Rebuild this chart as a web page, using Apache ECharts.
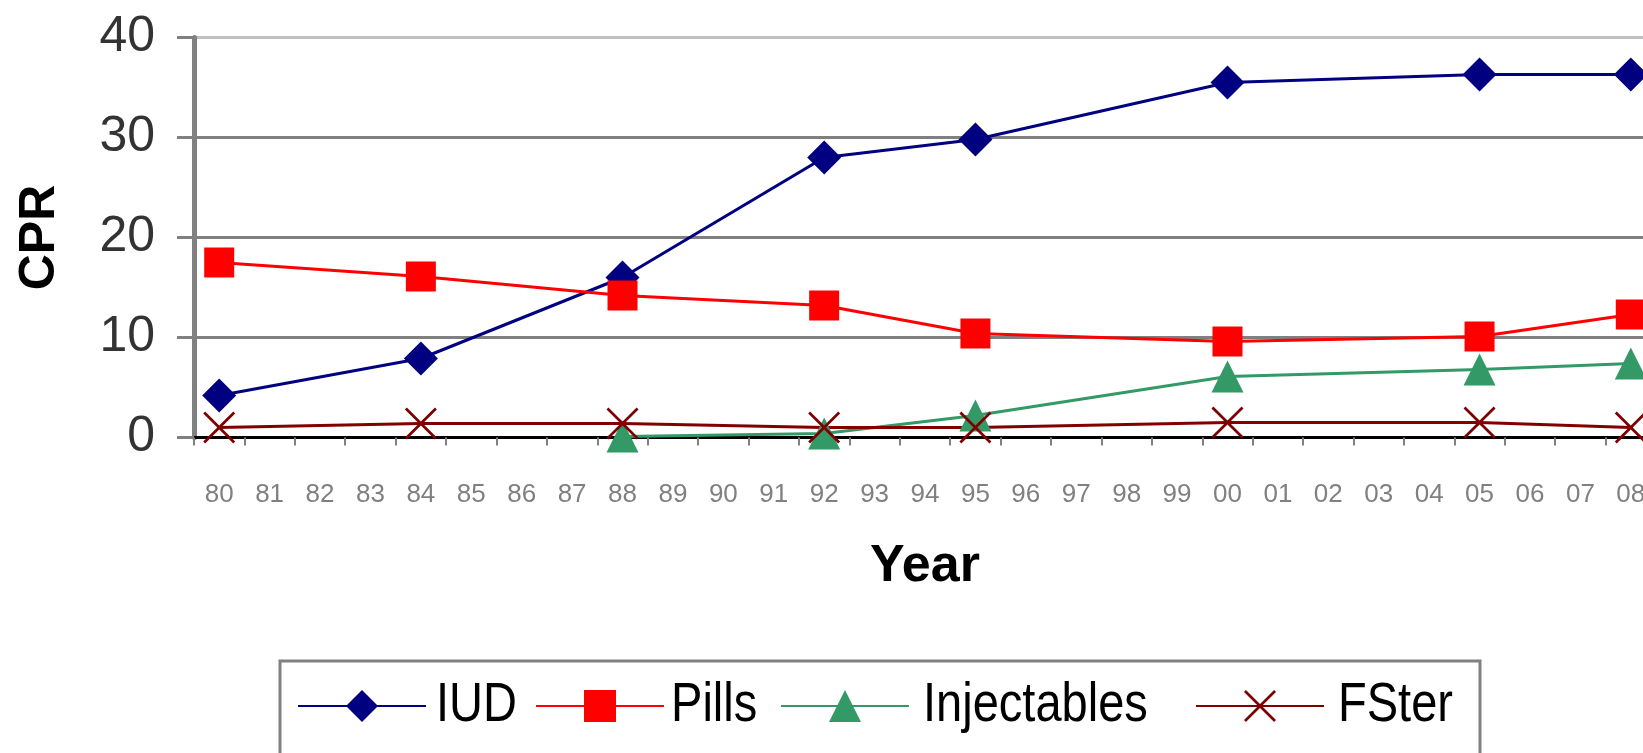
<!DOCTYPE html>
<html>
<head>
<meta charset="utf-8">
<title>CPR by method</title>
<script src="https://cdn.jsdelivr.net/npm/echarts@6/dist/echarts.min.js"></script>
<style>
  html, body { margin: 0; padding: 0; background: #ffffff; overflow: hidden; }
  /* The plot runs on past the right edge of the window, so the last year is cut at its half */
  #chart { width: 1656px; height: 753px; }
</style>
</head>
<body>
<div id="chart"></div>
<script>
// Year categories on the x axis (two-digit labels, 1980–2008)
const years = ['80','81','82','83','84','85','86','87','88','89','90','91','92','93','94','95',
               '96','97','98','99','00','01','02','03','04','05','06','07','08'];

// Survey rounds and the contraceptive prevalence (CPR) of each method
const surveyYears = ['80','84','88','92','95','00','05','08'];
const iud         = [4.2, 7.9, 16.0, 28.0, 29.8, 35.5, 36.3, 36.3];
const pills       = [17.5, 16.1, 14.2, 13.2, 10.4, 9.6, 10.1, 12.3];
const injectables = [null, null, 0.1, 0.4, 2.2, 6.1, 6.8, 7.4];
const fster       = [1.0, 1.4, 1.4, 1.0, 1.0, 1.5, 1.5, 1.0];

// Y-axis ticks
const yTicks = [0, 10, 20, 30, 40];

// Legend entries
const methods = ['IUD', 'Pills', 'Injectables', 'FSter'];

// Spread survey values over the full year axis, leaving gaps elsewhere
function onYearAxis(values) {
  return years.map(function (y) {
    const i = surveyYears.indexOf(y);
    return i >= 0 ? values[i] : null;
  });
}

const FONT = 'Liberation Sans, Arial, sans-serif';
const xMark = 'path://M0,1.2L1.2,0L10,8.8L18.8,0L20,1.2L11.2,10L20,18.8L18.8,20L10,11.2L1.2,20L0,18.8L8.8,10Z';

function lineSeries(name, values, color, symbol, size) {
  return {
    name: name,
    type: 'line',
    data: onYearAxis(values),
    connectNulls: true,
    symbol: symbol,
    symbolSize: size,
    showAllSymbol: true,
    lineStyle: { color: color, width: 3 },
    itemStyle: { color: color },
    emphasis: { disabled: true }
  };
}

// Legend keys (line + marker); the names beside them are set as narrow text
const keyLeft  = [297, 535, 780, 1195];
const nameLeft = [436, 671, 923, 1338];

function legendItem(i) {
  return {
    data: [methods[i]],
    left: keyLeft[i],
    top: 686,
    padding: 0,
    itemWidth: 128,
    itemHeight: 40,
    selectedMode: false,
    formatter: function () { return ''; }
  };
}

function legendName(i) {
  return {
    type: 'text',
    x: nameLeft[i],
    y: 706,
    scaleX: 0.84,
    silent: true,
    style: {
      text: methods[i],
      font: '56px "Liberation Sans", Arial, sans-serif',
      fill: '#000',
      verticalAlign: 'middle',
      align: 'left'
    }
  };
}

const chart = echarts.init(document.getElementById('chart'));
chart.setOption({
  animation: false,
  backgroundColor: '#ffffff',
  grid: { left: 194, right: 0, top: 37.5, bottom: 315.5, containLabel: false },
  xAxis: {
    type: 'category',
    data: years,
    boundaryGap: true,
    name: 'Year',
    nameLocation: 'middle',
    nameGap: 103,
    nameTextStyle: { fontFamily: FONT, fontSize: 52, fontWeight: 'bold', color: '#000' },
    axisLine: { show: true, lineStyle: { color: '#000', width: 3 } },
    axisTick: { show: true, length: 8, lineStyle: { color: '#808080', width: 2 } },
    axisLabel: { interval: 0, margin: 44, fontFamily: FONT, fontSize: 26, color: '#808080' },
    splitLine: { show: false }
  },
  yAxis: {
    type: 'value',
    min: yTicks[0],
    max: yTicks[yTicks.length - 1],
    interval: 10,
    name: 'CPR',
    nameLocation: 'middle',
    nameRotate: 90,
    nameGap: 129,
    nameTextStyle: { fontFamily: FONT, fontSize: 50, fontWeight: 'bold', color: '#000' },
    axisLine: { show: true, lineStyle: { color: '#808080', width: 5 } },
    axisTick: { show: true, length: 17, lineStyle: { color: '#808080', width: 3 } },
    axisLabel: { margin: 39, fontFamily: FONT, fontSize: 50, color: '#333' },
    splitLine: { show: true, lineStyle: { color: ['#808080','#808080','#808080','#808080','#c0c0c0'], width: 3 } }
  },
  legend: methods.map(function (m, i) { return legendItem(i); }),
  graphic: [{
    type: 'rect',
    shape: { x: 280, y: 661, width: 1200, height: 140 },
    style: { fill: 'none', stroke: '#808080', lineWidth: 3 },
    silent: true
  }].concat(methods.map(function (m, i) { return legendName(i); })),
  series: [
    lineSeries('IUD', iud, '#000080', 'diamond', 34),
    lineSeries('Pills', pills, '#ff0000', 'rect', 30),
    lineSeries('Injectables', injectables, '#339966', 'triangle', 32),
    lineSeries('FSter', fster, '#800000', xMark, 32)
  ]
});
</script>
</body>
</html>
